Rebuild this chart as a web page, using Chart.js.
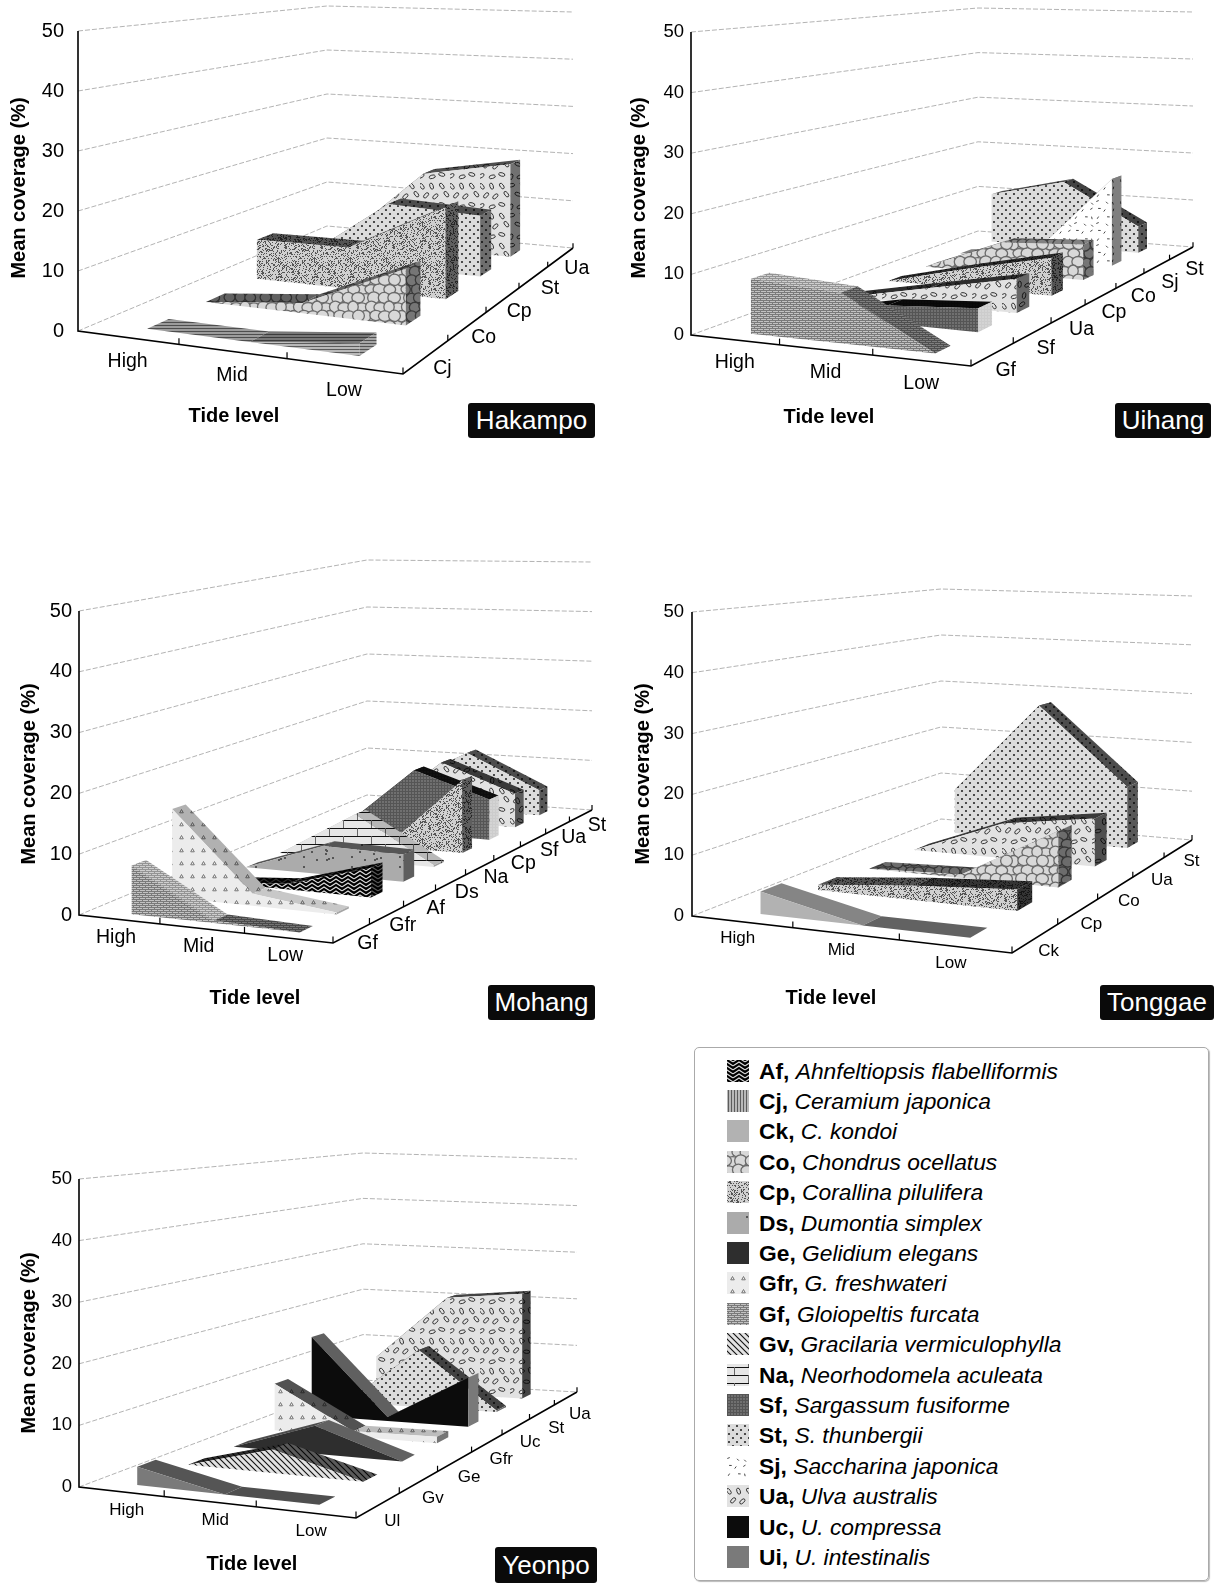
<!DOCTYPE html>
<html>
<head>
<meta charset="utf-8">
<title>Mean coverage by tide level</title>
<script src="https://cdn.jsdelivr.net/npm/chart.js@4"></script>
<style>
    html, body { margin: 0; padding: 0; background: #fff; }
    body { position: relative; width: 1214px; height: 1583px; overflow: hidden; font-family: "Liberation Sans", Arial, sans-serif; color: #000; }
    canvas.panel { position: absolute; }
    .tag { position: absolute; background: #0a0a0a; color: #fff; border-radius: 3px; font-size: 26px; text-align: center; }
    #legend { position: absolute; left: 694px; top: 1047px; width: 513px; height: 532px; border: 1px solid #aaa; border-radius: 5px; box-shadow: 1px 1px 1px #bbb; }
    .row { position: absolute; left: 32px; height: 30px; font-size: 22.8px; line-height: 30px; white-space: nowrap; }
    .row canvas { position: absolute; left: 0; top: 4px; }
    .row span { position: absolute; left: 32px; top: 0; }
</style>
</head>
<body>
<div id="legend"></div>
<script>
const tideLevels = ["High", "Mid", "Low"];
const yTicks = [0, 10, 20, 30, 40, 50];

const hakampoSpecies = ["Cj", "Co", "Cp", "St", "Ua"];
const hakampoValues = [[0, 0, 2], [0, 1.8, 9.6], [7.5, 7.7, 16.7], [0, 12.6, 11.8], [0, 15.8, 19]];

const uihangSpecies = ["Gf", "Sf", "Ua", "Cp", "Co", "Sj", "St"];
const uihangValues = [[9.1, 8.2, 0], [0, 3, 4], [0, 3, 6], [0, 3.7, 7], [0, 6, 6.8], [0, 1.5, 17.4], [10.2, 13.8, 5.5]];

const mohangSpecies = ["Gf", "Gfr", "Af", "Ds", "Na", "Cp", "Sf", "Ua", "St"];
const mohangValues = [[8, 0.4, 0], [15, 2, 0.3], [0, 1, 5], [0, 5, 4.7], [0, 8.3, 0.3], [0, 0, 13.4], [0, 12.2, 7.6], [0, 11.7, 6.5], [4, 11.6, 5]];

const tonggaeSpecies = ["Ck", "Cp", "Co", "Ua", "St"];
const tonggaeValues = [[3.7, 0, 0], [0.9, 2.5, 3.6], [0, 0.6, 10], [0, 6.7, 9.1], [9, 27.5, 12.2]];

const yeonpoSpecies = ["Ul", "Gv", "Ge", "Gfr", "Uc", "St", "Ua"];
const yeonpoValues = [[3, 0, 0], [0, 4, 0], [0, 5, 0], [8.8, 1, 1.2], [15.5, 0.8, 9.5], [0, 11.6, 0.3], [7, 20.4, 22]];

const legendCodes = ["Af", "Cj", "Ck", "Co", "Cp", "Ds", "Ge", "Gfr", "Gf", "Gv", "Na", "Sf", "St", "Sj", "Ua", "Uc", "Ui"];
const legendNames = ["Ahnfeltiopsis flabelliformis", "Ceramium japonica", "C. kondoi", "Chondrus ocellatus", "Corallina pilulifera", "Dumontia simplex", "Gelidium elegans", "G. freshwateri", "Gloiopeltis furcata", "Gracilaria vermiculophylla", "Neorhodomela aculeata", "Sargassum fusiforme", "S. thunbergii", "Saccharina japonica", "Ulva australis", "U. compressa", "U. intestinalis"];

// shades of the top strips (High-Mid, Mid-Low) and the end face, over the species pattern
// above 0 darkens, below 0 lightens
const hakampoShades = { Cj: [0.15, 0.35, 0.1], Co: [0.55, 0.55, 0.45], Cp: [0.6, 0.6, 0.55], St: [0.65, 0.65, 0.5], Ua: [0.65, 0.65, 0.5] };
const uihangShades = { Gf: [-0.2, 0.35, 0.3], Sf: [0.9, 0.9, -0.7], Ua: [0.8, 0.8, 0.55], Cp: [0.8, 0.8, 0.6], Co: [0.4, 0.4, 0.45], Sj: [0.5, 0.5, 0.5], St: [0.65, 0.7, 0.6] };
const mohangShades = { Gf: [-0.2, 0.4, 0.3], Gfr: [0.25, 0.15, 0.3], Af: [0.8, 0.8, 0.6], Ds: [0.5, 0.5, 0.45], Na: [0.2, 0.2, 0.3], Cp: [0.6, 0.6, 0.55], Sf: [0.85, 0.85, -0.7], Ua: [0.75, 0.75, 0.6], St: [0.65, 0.65, 0.6] };
const tonggaeShades = { Ck: [0.25, 0.45, 0.2], Cp: [0.6, 0.75, 0.75], Co: [0.5, 0.4, 0.5], Ua: [0.75, 0.75, 0.65], St: [0.65, 0.65, 0.6] };
const yeonpoShades = { Ul: [0.3, 0.35, 0.3], Gv: [0.8, 0.6, 0.5], Ge: [-0.15, -0.25, -0.2], Gfr: [0.65, 0.2, 0.5], Uc: [-0.35, -0.35, -0.45], St: [0.7, 0.7, 0.5], Ua: [0.7, 0.7, 0.7] };

const panels = [
    {
        name: "Hakampo", species: hakampoSpecies, values: hakampoValues, shades: hakampoShades,
        box: { left: 0, top: 0, width: 612, height: 445 },
        floor: [[78, 331], [403, 374], [573, 248], [327, 226]], heights: [300, 220, 236],
        font: 19.5, tickFont: 20, tickPad: 14, tideOffset: [0, 24], speciesOffset: [16, 12],
        yTitle: [19, 188], tideTitle: [234, 416], tag: [468, 403, 127, 35],
    },
    {
        name: "Uihang", species: uihangSpecies, values: uihangValues, shades: uihangShades,
        box: { left: 612, top: 0, width: 602, height: 445 },
        floor: [[691, 335], [971, 366], [1193, 247], [978, 231]], heights: [303, 223, 235],
        font: 19.5, tickFont: 18.5, tickPad: 7, tideOffset: [0, 23], speciesOffset: [13, 16],
        yTitle: [639, 188], tideTitle: [829, 417], tag: [1115, 403, 96, 35],
    },
    {
        name: "Mohang", species: mohangSpecies, values: mohangValues, shades: mohangShades,
        box: { left: 0, top: 545, width: 612, height: 485 },
        floor: [[79, 915], [333, 943], [592, 810], [382, 795]], apex: [367, 795], heights: [304, 235, 248],
        font: 19.5, tickFont: 20, tickPad: 7, tideOffset: [-3, 18], speciesOffset: [16, 10],
        yTitle: [29, 774], tideTitle: [255, 998], tag: [488, 985, 107, 35],
    },
    {
        name: "Tonggae", species: tonggaeSpecies, values: tonggaeValues, shades: tonggaeShades,
        box: { left: 612, top: 545, width: 602, height: 485 },
        floor: [[692, 916], [1012, 953], [1192, 840], [941, 819]], heights: [304, 230, 244],
        font: 17, tickFont: 18.5, tickPad: 8, tideOffset: [-4, 17], speciesOffset: [13, 13],
        yTitle: [643, 774], tideTitle: [831, 998], tag: [1100, 985, 114, 35],
    },
    {
        name: "Yeonpo", species: yeonpoSpecies, values: yeonpoValues, shades: yeonpoShades,
        box: { left: 0, top: 1125, width: 612, height: 458 },
        floor: [[79, 1487], [356, 1518], [577, 1392], [363, 1380]], heights: [308, 227, 233],
        font: 17, tickFont: 18.5, tickPad: 7, tideOffset: [6, 19], speciesOffset: [14, 16],
        yTitle: [29, 1343], tideTitle: [252, 1564], tag: [495, 1547, 102, 36],
    },
];

let seed = 4711;
function nextRandom() {
    seed = (seed * 16807) % 2147483647;
    return seed / 2147483647;
}

function drawTile(name, vertical) {
    const c = document.createElement("canvas");
    const sizes = { Af: [12, 12], Cj: [6, 3], Co: [36, 36], Cp: [36, 36], Ds: [48, 48], Gfr: [11, 13], Gf: [6, 4], Gv: [6, 6], Na: [28, 16], Sf: [3, 3], St: [8, 8], Sj: [22, 22], Ua: [30, 30] };
    const size = sizes[name] || [4, 4];
    c.width = vertical ? size[1] : size[0];
    c.height = vertical ? size[0] : size[1];
    const ctx = c.getContext("2d");
    const w = c.width, h = c.height;
    if (name === "Af") {
        ctx.fillStyle = "#ddd";
        ctx.fillRect(0, 0, w, h);
        ctx.strokeStyle = "#000";
        ctx.lineWidth = 2.2;
        for (let y = -12; y < 24; y += 4) {
            ctx.beginPath();
            ctx.moveTo(-6, y + 4);
            ctx.lineTo(0, y);
            ctx.lineTo(6, y + 4);
            ctx.lineTo(12, y);
            ctx.lineTo(18, y + 4);
            ctx.stroke();
        }
    } else if (name === "Cj") {
        ctx.fillStyle = "#b8b8b8";
        ctx.fillRect(0, 0, w, h);
        ctx.fillStyle = "#5c5c5c";
        if (vertical) ctx.fillRect(1, 0, 1, h);
        else ctx.fillRect(0, 1, w, 1);
    } else if (name === "Co") {
        ctx.fillStyle = "#d8d8d8";
        ctx.fillRect(0, 0, w, h);
        ctx.fillStyle = "#d8d8d8";
        ctx.strokeStyle = "#6a6a6a";
        ctx.lineWidth = 1.3;
        for (let row = 0; row < 4; row++) {
            for (let col = 0; col < 4; col++) {
                const cx = col * 9 + (row % 2 ? 4.5 : 0) + nextRandom() * 3;
                const cy = row * 9 + nextRandom() * 3;
                const rx = 5 + nextRandom() * 1.5;
                const ry = 4.6 + nextRandom() * 1.4;
                // wrap the cells over the tile edges
                for (const ox of [-36, 0, 36]) {
                    for (const oy of [-36, 0, 36]) {
                        ctx.beginPath();
                        ctx.ellipse(cx + ox, cy + oy, rx, ry, 0, 0, Math.PI * 2);
                        ctx.fill();
                        ctx.stroke();
                    }
                }
            }
        }
    } else if (name === "Cp") {
        ctx.fillStyle = "#d0d0d0";
        ctx.fillRect(0, 0, w, h);
        ctx.fillStyle = "#555";
        for (let i = 0; i < 420; i++) {
            ctx.fillRect(Math.floor(nextRandom() * w), Math.floor(nextRandom() * h), 1, 1);
        }
    } else if (name === "Ds") {
        ctx.fillStyle = "#ababab";
        ctx.fillRect(0, 0, w, h);
        ctx.fillStyle = "#555";
        for (let i = 0; i < 14; i++) {
            ctx.fillRect(Math.floor(nextRandom() * w), Math.floor(nextRandom() * h), 2, 2);
        }
    } else if (name === "Gfr") {
        ctx.fillStyle = "#ececec";
        ctx.fillRect(0, 0, w, h);
        ctx.strokeStyle = "#777";
        ctx.beginPath();
        ctx.moveTo(5.5, 4.5);
        ctx.lineTo(3.7, 7.8);
        ctx.lineTo(7.3, 7.8);
        ctx.closePath();
        ctx.stroke();
    } else if (name === "Gf") {
        ctx.fillStyle = "#c2c2c2";
        ctx.fillRect(0, 0, w, h);
        ctx.fillStyle = "#7a7a7a";
        ctx.fillRect(0, 0, w, 1);
        ctx.fillRect(0, 2, w, 1);
        ctx.fillRect(1, 1, 1, 1);
        ctx.fillRect(4, 3, 1, 1);
    } else if (name === "Gv") {
        ctx.fillStyle = "#e2e2e2";
        ctx.fillRect(0, 0, w, h);
        ctx.strokeStyle = "#111";
        ctx.lineWidth = 1.1;
        ctx.beginPath();
        ctx.moveTo(-1, -1);
        ctx.lineTo(w + 1, h + 1);
        ctx.moveTo(-1, h - 1);
        ctx.lineTo(1, h + 1);
        ctx.moveTo(w - 1, -1);
        ctx.lineTo(w + 1, 1);
        ctx.stroke();
    } else if (name === "Na") {
        ctx.fillStyle = "#e6e6e6";
        ctx.fillRect(0, 0, w, h);
        ctx.fillStyle = "#111";
        ctx.fillRect(0, 3, w, 1);
        ctx.fillRect(0, 11, w, 1);
        ctx.fillStyle = "#666";
        ctx.fillRect(7, 3, 1, 8);
        ctx.fillRect(21, 11, 1, 5);
        ctx.fillRect(21, 0, 1, 3);
    } else if (name === "Sf") {
        ctx.fillStyle = "#707070";
        ctx.fillRect(0, 0, w, h);
        ctx.fillStyle = "#555";
        ctx.fillRect(0, 0, w, 1);
        ctx.fillRect(0, 0, 1, h);
    } else if (name === "St") {
        ctx.fillStyle = "#dcdcdc";
        ctx.fillRect(0, 0, w, h);
        ctx.fillStyle = "#2a2a2a";
        ctx.beginPath();
        ctx.arc(2, 2, 1.1, 0, Math.PI * 2);
        ctx.arc(6, 6, 1.1, 0, Math.PI * 2);
        ctx.fill();
    } else if (name === "Sj") {
        ctx.fillStyle = "#fff";
        ctx.fillRect(0, 0, w, h);
        ctx.strokeStyle = "#333";
        ctx.lineWidth = 0.9;
        for (let row = 0; row < 3; row++) {
            for (let col = 0; col < 3; col++) {
                const x = col * 7 + 2 + nextRandom() * 3;
                const y = row * 7 + 2 + nextRandom() * 3;
                const a = nextRandom() * Math.PI;
                ctx.beginPath();
                ctx.moveTo(x, y);
                ctx.lineTo(x + Math.cos(a) * 2.6, y + Math.sin(a) * 2.6);
                ctx.stroke();
            }
        }
    } else if (name === "Ua") {
        ctx.fillStyle = "#e2e2e2";
        ctx.fillRect(0, 0, w, h);
        ctx.strokeStyle = "#333";
        for (let row = 0; row < 3; row++) {
            for (let col = 0; col < 3; col++) {
                const x = col * 10 + (row % 2 ? 5 : 0) + nextRandom() * 3;
                const y = row * 10 + 4 + nextRandom() * 3;
                ctx.beginPath();
                ctx.ellipse(x, y, 3.2, 1.7, nextRandom() * 3, 0, Math.PI * 2);
                ctx.stroke();
            }
        }
    } else {
        const solid = { Ck: "#b2b2b2", Ge: "#2e2e2e", Uc: "#0c0c0c", Ui: "#7a7a7a" };
        ctx.fillStyle = solid[name] || "#888";
        ctx.fillRect(0, 0, w, h);
    }
    return c;
}

const patternCache = {};
function getPattern(ctx, name, shade, vertical) {
    const key = name + "/" + shade + "/" + (vertical ? 1 : 0);
    if (!patternCache[key]) {
        const tile = drawTile(name, vertical);
        const t = tile.getContext("2d");
        if (shade > 0) t.fillStyle = "rgba(0,0,0," + shade + ")";
        else t.fillStyle = "rgba(255,255,255," + -shade + ")";
        if (shade !== 0) t.fillRect(0, 0, tile.width, tile.height);
        patternCache[key] = ctx.createPattern(tile, "repeat");
    }
    return patternCache[key];
}

// floor quad (front left, front right, back right, back left) to unit square
function makeProjection(panel) {
    const [p0, p1, p2, p3] = panel.floor;
    const dx1 = p1[0] - p2[0], dx2 = p3[0] - p2[0], sx = p0[0] - p1[0] + p2[0] - p3[0];
    const dy1 = p1[1] - p2[1], dy2 = p3[1] - p2[1], sy = p0[1] - p1[1] + p2[1] - p3[1];
    const den = dx1 * dy2 - dx2 * dy1;
    const g = (sx * dy2 - dx2 * sy) / den;
    const h = (dx1 * sy - sx * dy1) / den;
    const a = p1[0] - p0[0] + g * p1[0], b = p3[0] - p0[0] + h * p3[0];
    const d = p1[1] - p0[1] + g * p1[1], e = p3[1] - p0[1] + h * p3[1];
    const [h0, hBack, hRight] = panel.heights;
    const hz = h0 / hBack - 1;
    const gz = h0 / hRight - 1 - hz;
    const unit = h0 / 50;
    return function (u, v, value) {
        const w = g * u + h * v + 1;
        const zw = gz * u + hz * v + 1;
        const px = (a * u + b * v + p0[0]) / w;
        const py = (d * u + e * v + p0[1]) / w;
        return { x: px, y: (p0[1] - py) / unit + value / zw };
    };
}

function shape(points, fillStyle) {
    return { data: points, showLine: true, fill: "shape", backgroundColor: fillStyle, borderWidth: 0, pointRadius: 0, clip: false, tension: 0 };
}

function stroke(points, color, width, dash) {
    return { data: points, showLine: true, fill: false, borderColor: color, borderWidth: width, borderDash: dash || [], pointRadius: 0, clip: false, tension: 0 };
}

function buildDatasets(panel, ctx) {
    const project = makeProjection(panel);
    const sets = [];
    const n = panel.species.length;

    yTicks.forEach(function (level) {
        const corner = project(0, 1, level);
        if (panel.apex) corner.x = panel.apex[0];
        sets.push(stroke([project(0, 0, level), corner, project(1, 1, level)], "#a0a0a0", 0.8, [5, 2]));
    });

    // back to front, so the nearer ribbons cover the farther ones
    for (let s = n - 1; s >= 0; s--) {
        const label = panel.species[s];
        const key = label === "Ul" ? "Ui" : label;
        const vals = panel.values[s];
        const shades = panel.shades[label];
        const centre = (s + 0.5) / n;
        const vFront = centre - 0.2 / n;
        const vBack = centre + 0.15 / n;
        const us = tideLevels.map(function (_, i) { return (i + 0.5) / tideLevels.length; });

        for (let i = 0; i < us.length - 1; i++) {
            sets.push(shape([
                project(us[i], vFront, vals[i]),
                project(us[i + 1], vFront, vals[i + 1]),
                project(us[i + 1], vBack, vals[i + 1]),
                project(us[i], vBack, vals[i]),
            ], getPattern(ctx, key, shades[i])));
        }

        const front = us.map(function (u, i) { return project(u, vFront, vals[i]); });
        const base = us.map(function (u) { return project(u, vFront, 0); }).reverse();
        sets.push(shape(front.concat(base), getPattern(ctx, key, 0)));

        const last = us.length - 1;
        sets.push(shape([
            project(us[last], vFront, vals[last]),
            project(us[last], vBack, vals[last]),
            project(us[last], vBack, 0),
            project(us[last], vFront, 0),
        ], getPattern(ctx, key, shades[2])));
    }

    sets.push(stroke([project(0, 0, 50), project(0, 0, 0), project(1, 0, 0), project(1, 1, 0)], "#000", 1.6));
    for (let i = 1; i <= tideLevels.length; i++) {
        const u = i / tideLevels.length;
        sets.push(stroke([project(u, 0, 0), project(u, 0, 1)], "#000", 1.2));
    }
    for (let i = 1; i <= n; i++) {
        const v = i / n;
        sets.push(stroke([project(1, v, 0), project(1, v, 1)], "#000", 1.2));
    }
    // Chart.js paints the first dataset last
    return sets.reverse();
}

const panelText = {
    id: "panelText",
    afterDraw: function (chart) {
        const panel = chart.options.plugins.panelText.panel;
        const project = makeProjection(panel);
        const ctx = chart.ctx;
        const box = panel.box;
        const toPixel = function (p) {
            return [chart.scales.x.getPixelForValue(p.x), chart.scales.y.getPixelForValue(p.y)];
        };
        ctx.save();
        ctx.fillStyle = "#000";
        ctx.textAlign = "center";
        ctx.textBaseline = "middle";
        ctx.font = panel.font + 'px "Liberation Sans"';
        tideLevels.forEach(function (label, i) {
            const p = toPixel(project((i + 0.5) / tideLevels.length, 0, 0));
            ctx.fillText(label, p[0] + panel.tideOffset[0], p[1] + panel.tideOffset[1]);
        });
        panel.species.forEach(function (label, i) {
            const p = toPixel(project(1, (i + 0.5) / panel.species.length, 0));
            ctx.fillText(label, p[0] + panel.speciesOffset[0], p[1] + panel.speciesOffset[1]);
        });
        ctx.font = 'bold 20px "Liberation Sans"';
        ctx.fillText("Tide level", panel.tideTitle[0] - box.left, panel.tideTitle[1] - box.top);
        ctx.translate(panel.yTitle[0] - box.left, panel.yTitle[1] - box.top);
        ctx.rotate(-Math.PI / 2);
        ctx.fillText("Mean coverage (%)", 0, 0);
        ctx.restore();
    },
};

panels.forEach(function (panel) {
    const box = panel.box;
    const canvas = document.createElement("canvas");
    canvas.className = "panel";
    canvas.width = box.width;
    canvas.height = box.height;
    canvas.style.left = box.left + "px";
    canvas.style.top = box.top + "px";
    document.body.appendChild(canvas);

    const origin = panel.floor[0];
    const unit = panel.heights[0] / 50;

    new Chart(canvas, {
        type: "scatter",
        data: { datasets: buildDatasets(panel, canvas.getContext("2d")) },
        plugins: [panelText],
        options: {
            responsive: false,
            animation: false,
            events: [],
            layout: { padding: 0, autoPadding: false },
            plugins: {
                legend: { display: false },
                tooltip: { enabled: false },
                panelText: { panel: panel },
            },
            scales: {
                x: { type: "linear", display: false, min: origin[0], max: box.left + box.width },
                y: {
                    type: "linear",
                    min: (origin[1] - box.top - box.height) / unit,
                    max: (origin[1] - box.top) / unit,
                    afterFit: function (scale) {
                        scale.width = origin[0] - box.left;
                        scale.paddingTop = 0;
                        scale.paddingBottom = 0;
                    },
                    afterBuildTicks: function (scale) {
                        scale.ticks = yTicks.map(function (value) { return { value: value }; });
                    },
                    grid: { display: false, drawTicks: false },
                    border: { display: false },
                    ticks: {
                        autoSkip: false,
                        maxRotation: 0,
                        padding: panel.tickPad,
                        color: "#000",
                        font: { family: "Liberation Sans", size: panel.tickFont },
                        callback: function (value) { return String(value); },
                    },
                },
            },
        },
    });

    const tag = document.createElement("div");
    tag.className = "tag";
    tag.textContent = panel.name;
    tag.style.left = panel.tag[0] + "px";
    tag.style.top = panel.tag[1] + "px";
    tag.style.width = panel.tag[2] + "px";
    tag.style.height = panel.tag[3] + "px";
    tag.style.lineHeight = panel.tag[3] + "px";
    document.body.appendChild(tag);
});

const legend = document.getElementById("legend");
legendCodes.forEach(function (code, i) {
    const row = document.createElement("div");
    row.className = "row";
    row.style.top = 7.5 + i * 30.4 + "px";
    const swatch = document.createElement("canvas");
    swatch.width = 22;
    swatch.height = 22;
    const sctx = swatch.getContext("2d");
    sctx.fillStyle = getPattern(sctx, code, 0, code === "Cj");
    sctx.fillRect(0, 0, 22, 22);
    row.appendChild(swatch);
    const text = document.createElement("span");
    const bold = document.createElement("b");
    bold.textContent = code + ", ";
    const italic = document.createElement("i");
    italic.textContent = legendNames[i];
    text.appendChild(bold);
    text.appendChild(italic);
    row.appendChild(text);
    legend.appendChild(row);
});
</script>
</body>
</html>
